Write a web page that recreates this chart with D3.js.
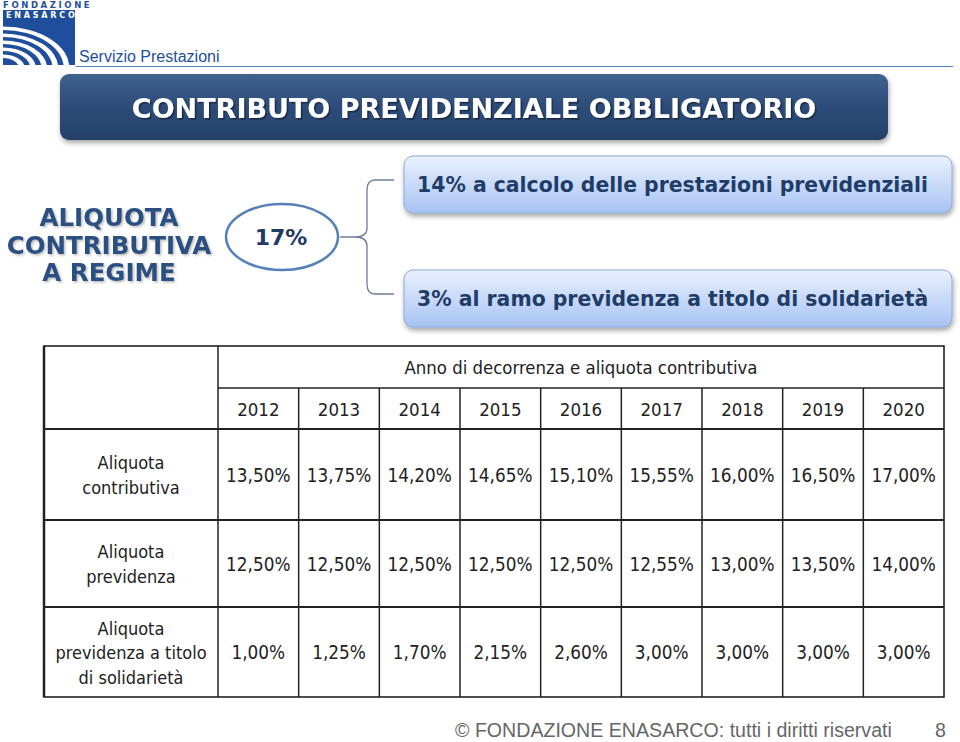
<!DOCTYPE html>
<html><head><meta charset="utf-8">
<script src="https://cdn.jsdelivr.net/npm/d3@7"></script>
<style>body{margin:0;background:#fff}svg{display:block}</style>
</head><body>
<script>
const years = ["2012","2013","2014","2015","2016","2017","2018","2019","2020"];
const rowLabels = [["Aliquota","contributiva"],["Aliquota","previdenza"],["Aliquota","previdenza a titolo","di solidarietà"]];
const contributiva = ["13,50%","13,75%","14,20%","14,65%","15,10%","15,55%","16,00%","16,50%","17,00%"];
const previdenza = ["12,50%","12,50%","12,50%","12,50%","12,50%","12,55%","13,00%","13,50%","14,00%"];
const solidarieta = ["1,00%","1,25%","1,70%","2,15%","2,60%","3,00%","3,00%","3,00%","3,00%"];
const tableTitle = "Anno di decorrenza e aliquota contributiva";
const titleText = "CONTRIBUTO PREVIDENZIALE OBBLIGATORIO";
const sideLabel = ["ALIQUOTA","CONTRIBUTIVA","A REGIME"];
const totalLabel = "17%";
const boxTexts = ["14% a calcolo delle prestazioni previdenziali","3% al ramo previdenza a titolo di solidarietà"];
const footerText = "© FONDAZIONE ENASARCO: tutti i diritti riservati";
const pageNum = "8";

const W=960,H=742;
const svg=d3.select("body").append("svg").attr("width",W).attr("height",H);
const defs=svg.append("defs");

const g1=defs.append("linearGradient").attr("id","titleGrad").attr("x1",0).attr("y1",0).attr("x2",0).attr("y2",1);
g1.append("stop").attr("offset","0").attr("stop-color","#40618f");
g1.append("stop").attr("offset","0.5").attr("stop-color","#2d4c79");
g1.append("stop").attr("offset","1").attr("stop-color","#24406a");
const g2=defs.append("linearGradient").attr("id","boxGrad").attr("x1",0).attr("y1",0).attr("x2",0).attr("y2",1);
g2.append("stop").attr("offset","0").attr("stop-color","#eaf1fd");
g2.append("stop").attr("offset","1").attr("stop-color","#a7c3f3");
const sh=defs.append("filter").attr("id","shadow").attr("x","-5%").attr("y","-20%").attr("width","110%").attr("height","150%");
sh.append("feDropShadow").attr("dx",1).attr("dy",3).attr("stdDeviation",2.5).attr("flood-color","#000").attr("flood-opacity",0.35);
const ts=defs.append("filter").attr("id","tshadow");
ts.append("feDropShadow").attr("dx",1.5).attr("dy",1.5).attr("stdDeviation",0.6).attr("flood-color","#000").attr("flood-opacity",0.45);
const ts2=defs.append("filter").attr("id","tshadow2");
ts2.append("feDropShadow").attr("dx",1.5).attr("dy",1.5).attr("stdDeviation",0.8).attr("flood-color","#777").attr("flood-opacity",0.5);

// logo
const logo=svg.append("g");
logo.append("text").attr("x",3).attr("y",8).attr("font-family","DejaVu Sans").attr("font-weight","bold")
  .attr("font-size",8.5).attr("fill","#1f4f9c").attr("letter-spacing",2.6).text("FONDAZIONE");
defs.append("clipPath").attr("id","logoClip").append("rect").attr("x",3).attr("y",10).attr("width",72).attr("height",55);
logo.append("rect").attr("x",3).attr("y",10).attr("width",72).attr("height",55).attr("fill","#1f4f9c");
logo.append("text").attr("x",6).attr("y",18).attr("font-family","DejaVu Sans").attr("font-weight","bold")
  .attr("font-size",8).attr("fill","#fff").attr("letter-spacing",2.8).text("ENASARCO");
const arcOuter=logo.append("g").attr("clip-path","url(#logoClip)");
const arcG=arcOuter.append("g").attr("transform","translate(3,68) scale(1.6,1)");
const radii=[10,17,24,31,38];
arcG.selectAll("path").data(radii).join("path")
  .attr("d",r=>d3.arc()({innerRadius:r,outerRadius:r+3.5,startAngle:0,endAngle:Math.PI/2}))
  .attr("fill","#fff");
svg.append("text").attr("x",79).attr("y",62).attr("font-family","Liberation Sans, Arial").attr("font-size",16)
  .attr("fill","#1f4f9c").text("Servizio Prestazioni");
svg.append("line").attr("x1",76).attr("x2",953).attr("y1",66.5).attr("y2",66.5).attr("stroke","#4d7fc4").attr("stroke-width",1);

// title banner
svg.append("rect").attr("x",60).attr("y",74).attr("width",828).attr("height",66).attr("rx",9)
  .attr("fill","url(#titleGrad)").attr("filter","url(#shadow)");
svg.append("text").attr("x",474).attr("y",118).attr("text-anchor","middle").attr("font-family","DejaVu Sans")
  .attr("font-weight","bold").attr("font-size",27).attr("fill","#fff").attr("filter","url(#tshadow)").text(titleText);

// side label
svg.append("g").selectAll("text").data(sideLabel).join("text")
  .attr("x",109).attr("y",(d,i)=>226+i*27.5).attr("text-anchor","middle").attr("font-family","DejaVu Sans")
  .attr("font-weight","bold").attr("font-size",24.5).attr("fill","#2b4f82").attr("filter","url(#tshadow2)").text(d=>d);

// ellipse
svg.append("ellipse").attr("cx",282).attr("cy",237).attr("rx",56).attr("ry",33)
  .attr("fill","#fff").attr("stroke","#5580b8").attr("stroke-width",2.5);
svg.append("text").attr("x",281).attr("y",245).attr("text-anchor","middle").attr("font-family","DejaVu Sans")
  .attr("font-weight","bold").attr("font-size",22).attr("fill","#1f3b63").text(totalLabel);

// bracket
const br=d3.path();
br.moveTo(394,180); br.lineTo(375,180); br.quadraticCurveTo(367,180,367,190); br.lineTo(367,228);
br.quadraticCurveTo(367,237,355,237); br.lineTo(340,237);
br.moveTo(355,237); br.quadraticCurveTo(367,237,367,246); br.lineTo(367,284);
br.quadraticCurveTo(367,294,375,294); br.lineTo(394,294);
svg.append("path").attr("d",br.toString()).attr("fill","none").attr("stroke","#6a7f99").attr("stroke-width",1.3);

// boxes
const boxY=[156,270];
const bx=svg.append("g").selectAll("g").data(boxTexts).join("g");
bx.append("rect").attr("x",404).attr("y",(d,i)=>boxY[i]).attr("width",548).attr("height",57).attr("rx",9)
  .attr("fill","url(#boxGrad)").attr("stroke","#8eaad6").attr("stroke-width",1).attr("filter","url(#shadow)");
bx.append("text").attr("x",417).attr("y",(d,i)=>boxY[i]+36).attr("font-family","DejaVu Sans").attr("font-weight","bold")
  .attr("font-size",20.4).attr("fill","#1f3d68").text(d=>d);

// table
const tL=44,tR=944,tT=346,firstColR=218;
const x=d3.scaleBand().domain(years).range([firstColR,tR]);
const rowKeys=["title","years","r0","r1","r2"];
const rowEdges=[346,388,429,520,607,697];
const y=d3.scaleOrdinal().domain(rowKeys).range(rowEdges.slice(0,5));
const rowH=k=>rowEdges[rowKeys.indexOf(k)+1]-y(k);
const tbl=svg.append("g");
const font="DejaVu Sans Condensed, DejaVu Sans";
const tc="#222";
tbl.append("text").attr("x",(firstColR+tR)/2).attr("y",y("title")+rowH("title")/2+7).attr("text-anchor","middle")
  .attr("font-family",font).attr("font-size",18.4).attr("fill",tc).text(tableTitle);
tbl.selectAll(".yr").data(years).join("text").attr("class","yr")
  .attr("x",d=>x(d)+x.bandwidth()/2).attr("y",y("years")+rowH("years")/2+7).attr("text-anchor","middle")
  .attr("font-family",font).attr("font-size",18.5).attr("fill",tc).text(d=>d);
const series=[contributiva,previdenza,solidarieta];
series.forEach((vals,ri)=>{
  const k="r"+ri;
  tbl.selectAll(".v"+ri).data(vals).join("text").attr("class","v"+ri)
    .attr("x",(d,i)=>x(years[i])+x.bandwidth()/2).attr("y",y(k)+rowH(k)/2+7).attr("text-anchor","middle")
    .attr("font-family",font).attr("font-size",18.8).attr("fill",tc).text(d=>d);
  const lines=rowLabels[ri];
  tbl.selectAll(".l"+ri).data(lines).join("text").attr("class","l"+ri)
    .attr("x",(tL+firstColR)/2).attr("y",(d,i)=>y(k)+rowH(k)/2+7+(i-(lines.length-1)/2)*24.5).attr("text-anchor","middle")
    .attr("font-family",font).attr("font-size",18).attr("fill",tc).text(d=>d);
});
const ln=(x1,y1,x2,y2,w)=>tbl.append("line").attr("x1",x1).attr("y1",y1).attr("x2",x2).attr("y2",y2).attr("stroke","#222").attr("stroke-width",w);
ln(firstColR,y("years"),tR,y("years"),1.3);
ln(tL,y("r0"),tR,y("r0"),2);
ln(tL,y("r1"),tR,y("r1"),2.2);
ln(tL,y("r2"),tR,y("r2"),2.2);
years.slice(1).forEach(yr=>ln(x(yr),y("years"),x(yr),rowEdges[5],1.5));
ln(firstColR,tT,firstColR,rowEdges[5],1.5);
tbl.append("rect").attr("x",tL).attr("y",tT).attr("width",tR-tL).attr("height",rowEdges[5]-tT)
  .attr("fill","none").attr("stroke","#222").attr("stroke-width",1.6);
ln(tL,tT,tL,rowEdges[5],2.5);

// footer
svg.append("text").attr("x",455).attr("y",737).attr("font-family","Liberation Sans, Arial").attr("font-size",19.6)
  .attr("fill","#666").text(footerText);
svg.append("text").attr("x",946).attr("y",737).attr("text-anchor","end").attr("font-family","Liberation Sans, Arial").attr("font-size",19.6)
  .attr("fill","#666").text(pageNum);
</script>
</body></html>
